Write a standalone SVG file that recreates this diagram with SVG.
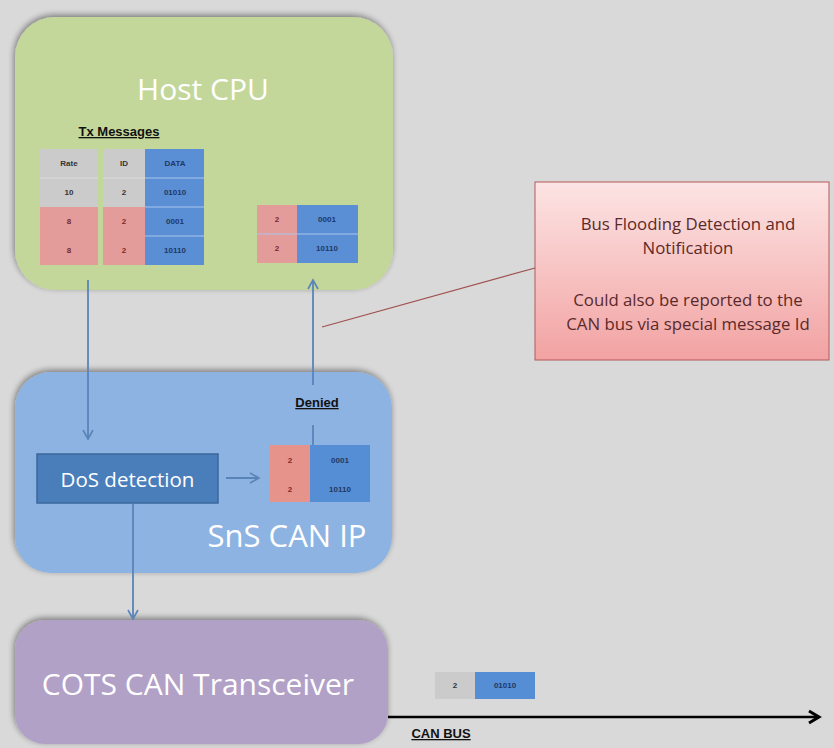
<svg xmlns="http://www.w3.org/2000/svg" width="834" height="748" viewBox="0 0 834 748">
<defs>
<filter id="sh" x="-10%" y="-10%" width="120%" height="120%">
<feGaussianBlur in="SourceAlpha" stdDeviation="3"/>
<feOffset dx="-1" dy="-2" result="b"/>
<feComponentTransfer><feFuncA type="linear" slope="0.45"/></feComponentTransfer>
<feMerge><feMergeNode/><feMergeNode in="SourceGraphic"/></feMerge>
</filter>
<linearGradient id="pinkg" x1="0" y1="0" x2="0" y2="1">
<stop offset="0" stop-color="#fde4e4"/>
<stop offset="1" stop-color="#f2a2a2"/>
</linearGradient>
<marker id="ah" viewBox="0 0 12 12" refX="10" refY="6" markerWidth="12" markerHeight="12" markerUnits="userSpaceOnUse" orient="auto">
<path d="M1,1 L10,6 L1,11" fill="none" stroke="#5a84b8" stroke-width="1.6"/>
</marker>
<marker id="bk" viewBox="0 0 16 16" refX="13" refY="8" markerWidth="16" markerHeight="16" markerUnits="userSpaceOnUse" orient="auto">
<path d="M3,2 L13,8 L3,14" fill="none" stroke="#000" stroke-width="3"/>
</marker>
</defs>
<style>
.title{font-family:"Open Sans","Liberation Sans",sans-serif;fill:#ffffff;font-size:30px;text-anchor:middle}
.cell{font-family:"Liberation Sans",sans-serif;font-size:8px;font-weight:bold;text-anchor:middle}
.red{fill:#7a2a2a}
.navy{fill:#1f3864}
.dark{fill:#333}
.lbl{font-family:"Liberation Sans",sans-serif;font-size:13px;font-weight:bold;fill:#111;text-anchor:middle;text-decoration:underline}
.note{font-family:"Open Sans","Liberation Sans",sans-serif;font-size:16.8px;fill:#5a2a2a;text-anchor:middle}
.gray{fill:#cbcbcb}
.pink{fill:#e49c9a}
.blue{fill:#5a8fd6}
.sep{stroke:#a9c4ea;stroke-width:1}
.sepg{stroke:#dcdcdc;stroke-width:1}
.conn{stroke:#5a84b8;stroke-width:1.8;fill:none}
</style>
<rect width="834" height="748" fill="#d9d9d9"/>

<g id="host-cpu">
<rect x="15" y="17" width="378" height="273" rx="40" fill="#c4d79b" filter="url(#sh)"/>
<text class="title" x="203" y="100">Host CPU</text>
<text class="lbl" x="119" y="136">Tx Messages</text>
<g id="tx-table">
<rect class="gray" x="40" y="149" width="58" height="58"/>
<rect class="pink" x="40" y="207" width="58" height="58"/>
<rect class="gray" x="103" y="149" width="42" height="58"/>
<rect class="pink" x="103" y="207" width="42" height="58"/>
<rect class="blue" x="145" y="149" width="59" height="116"/>
<line class="sepg" x1="40" y1="178" x2="98" y2="178"/>
<line class="sepg" x1="103" y1="178" x2="145" y2="178"/>
<line class="sep" x1="145" y1="178" x2="204" y2="178"/>
<line class="sep" x1="145" y1="207" x2="204" y2="207"/>
<line class="sep" x1="145" y1="236" x2="204" y2="236"/>
<text class="cell dark" x="69" y="166">Rate</text>
<text class="cell dark" x="124" y="166">ID</text>
<text class="cell navy" x="175" y="166">DATA</text>
<text class="cell dark" x="69" y="195">10</text>
<text class="cell dark" x="124" y="195">2</text>
<text class="cell navy" x="175" y="195">01010</text>
<text class="cell red" x="69" y="224">8</text>
<text class="cell red" x="124" y="224">2</text>
<text class="cell navy" x="175" y="224">0001</text>
<text class="cell red" x="69" y="253">8</text>
<text class="cell red" x="124" y="253">2</text>
<text class="cell navy" x="175" y="253">10110</text>
</g>
<g id="rx-table">
<rect class="pink" x="257" y="205" width="40" height="58"/>
<rect class="blue" x="297" y="205" width="61" height="58"/>
<line class="sep" x1="257" y1="234" x2="358" y2="234"/>
<text class="cell red" x="277" y="222">2</text>
<text class="cell navy" x="327" y="222">0001</text>
<text class="cell red" x="277" y="251">2</text>
<text class="cell navy" x="327" y="251">10110</text>
</g>
</g>

<g id="sns-can-ip">
<rect x="15" y="372" width="377" height="201" rx="36" fill="#8db3e2" filter="url(#sh)"/>
<text class="title" x="287" y="547" style="font-size:31px">SnS CAN IP</text>
<text class="lbl" x="317" y="407">Denied</text>
<g id="denied-table">
<rect x="270" y="445" width="40" height="57" fill="#e6938c"/>
<rect x="310" y="445" width="60" height="57" fill="#558ed5"/>
<text class="cell red" x="290" y="463">2</text>
<text class="cell navy" x="340" y="463">0001</text>
<text class="cell red" x="290" y="492">2</text>
<text class="cell navy" x="340" y="492">10110</text>
</g>
</g>

<g id="dos-detection">
<rect x="37" y="454" width="181" height="49" fill="#4a7ebb" stroke="#3b679b" stroke-width="1.5"/>
<text x="127.5" y="487" font-family="Open Sans, Liberation Sans, sans-serif" font-size="20.5" fill="#ffffff" text-anchor="middle">DoS detection</text>
</g>

<g id="cots-transceiver">
<rect x="15" y="620" width="373" height="124" rx="30" fill="#b2a1c7" filter="url(#sh)"/>
<text class="title" x="198" y="695">COTS CAN Transceiver</text>
</g>

<g id="note">
<rect x="535" y="182" width="294" height="178" fill="url(#pinkg)" stroke="#b35a5a" stroke-width="1"/>
<text class="note" x="688" y="230">Bus Flooding Detection and</text>
<text class="note" x="688" y="254">Notification</text>
<text class="note" x="688" y="306">Could also be reported to the</text>
<text class="note" x="688" y="330">CAN bus via special message Id</text>
</g>

<g id="bus-message">
<rect x="435" y="672" width="40" height="27" fill="#cbcbcb"/>
<rect x="475" y="672" width="60" height="27" fill="#558ed5"/>
<text class="cell dark" x="455" y="688">2</text>
<text class="cell navy" x="505" y="688">01010</text>
</g>

<g id="connectors">
<line class="conn" x1="88" y1="280" x2="88" y2="439" marker-end="url(#ah)"/>
<line class="conn" x1="313" y1="385" x2="313" y2="280" marker-end="url(#ah)"/>
<line class="conn" x1="313" y1="425" x2="313" y2="445"/>
<line class="conn" x1="226" y1="478" x2="259" y2="478" marker-end="url(#ah)"/>
<line class="conn" x1="133" y1="504" x2="133" y2="619" marker-end="url(#ah)"/>
<line x1="322" y1="327" x2="535" y2="268" stroke="#a0504e" stroke-width="1.2"/>
<line x1="388" y1="717" x2="819" y2="717" stroke="#000" stroke-width="2.6" marker-end="url(#bk)"/>
<text class="lbl" x="441" y="738">CAN BUS</text>
</g>
</svg>
